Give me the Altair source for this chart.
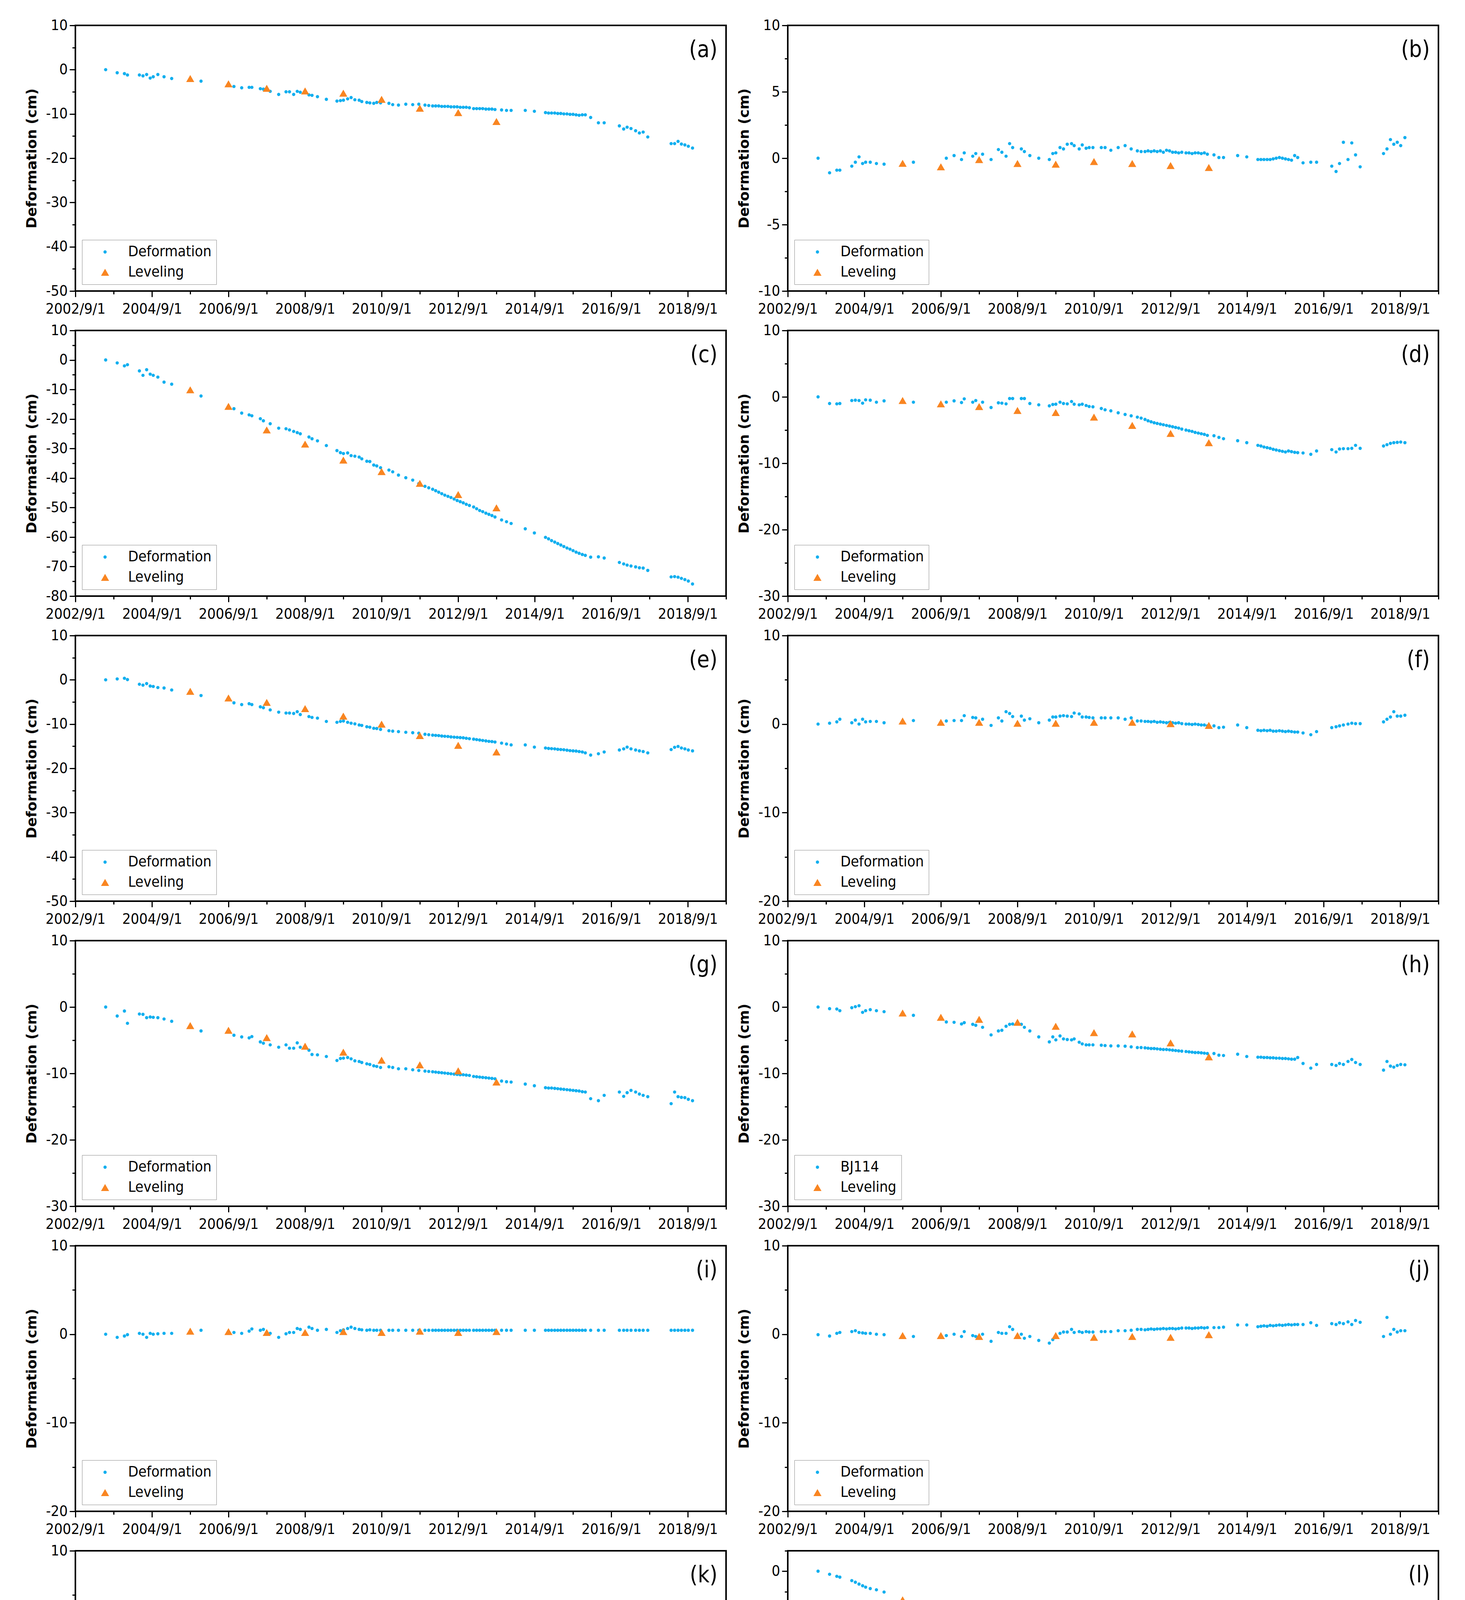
import altair as alt
import pandas as pd

# ---------------- data ----------------
DATES = [
    "2003-06-17","2003-10-05","2003-12-13","2004-01-11","2004-05-04","2004-06-07","2004-07-12","2004-08-15","2004-09-13","2004-10-27",
    "2004-12-25","2005-03-08","2005-12-13","2006-10-23","2007-01-05","2007-03-17","2007-04-12","2007-07-02","2007-07-31","2007-10-04",
    "2007-12-24","2008-03-03","2008-04-05","2008-05-15","2008-06-18","2008-07-17","2008-10-08","2008-11-06","2008-12-28","2009-03-23",
    "2009-07-02","2009-08-04","2009-09-02","2009-10-12","2009-11-14","2009-12-20","2010-01-30","2010-02-24","2010-04-13","2010-05-12",
    "2010-06-18","2010-07-17","2010-08-22","2010-11-10","2010-12-16","2011-02-09","2011-04-20","2011-06-25","2011-08-22","2011-10-20",
    "2011-11-25","2012-01-01","2012-01-30","2012-02-28","2012-03-28","2012-04-26","2012-05-26","2012-06-24","2012-07-24","2012-08-22",
    "2012-09-20","2012-10-19","2012-11-17","2012-12-17","2013-01-26","2013-02-24","2013-03-25","2013-04-23","2013-05-23","2013-06-21",
    "2013-07-20","2013-08-18","2013-10-20","2013-12-06","2014-01-19","2014-06-03","2014-08-29","2014-12-13","2015-01-11","2015-02-09",
    "2015-03-11","2015-04-09","2015-05-08","2015-06-06","2015-07-06","2015-08-04","2015-09-02","2015-10-01","2015-10-30","2015-11-29",
    "2015-12-28","2016-02-17","2016-05-01","2016-06-25","2016-11-17","2016-12-28","2017-01-30","2017-03-08","2017-04-21","2017-05-27",
    "2017-07-02","2017-08-15","2018-03-26","2018-04-28","2018-05-31","2018-07-02","2018-08-04","2018-09-06","2018-10-16",
]
LEV_DATES = ["2005-09-01","2006-09-01","2007-09-01","2008-09-01","2009-09-01",
             "2010-09-01","2011-09-01","2012-09-01","2013-09-01"]

A_DEF = [0, -0.7, -0.9, -1.2, -1.2, -1.4, -1.1, -1.9, -1.6, -1.1,
         -1.6, -2.0, -2.6, -3.8, -4.1, -4.0, -4.0, -4.3, -4.4, -4.9,
         -5.6, -5.0, -5.0, -5.6, -4.9, -5.1, -5.7, -5.8, -6.1, -6.7,
         -7.1, -7.0, -6.9, -6.6, -6.3, -6.8, -6.9, -7.2, -7.4, -7.5,
         -7.6, -7.4, -7.5, -7.6, -7.9, -8.0, -7.8, -7.9, -7.8, -8.0,
         -8.1, -8.2, -8.2, -8.2, -8.3, -8.3, -8.3, -8.4, -8.4, -8.4,
         -8.5, -8.5, -8.5, -8.6, -8.8, -8.8, -8.8, -8.8, -8.9, -8.9,
         -8.9, -9.0, -9.1, -9.2, -9.2, -9.2, -9.4, -9.7, -9.8, -9.8,
         -9.8, -9.9, -9.9, -10.0, -10.0, -10.1, -10.1, -10.2, -10.3, -10.2,
         -10.2, -10.8, -12.0, -12.0, -12.7, -13.4, -13.0, -13.3, -13.8, -14.3,
         -14.1, -15.2, -16.7, -16.7, -16.2, -16.8, -17.0, -17.3, -17.7]
A_LEV = [-2.0, -3.2, -4.2, -4.8, -5.3, -6.7, -8.7, -9.7, -11.7]

B_DEF = [0.0, -1.1, -0.9, -0.9, -0.6, -0.3, 0.1, -0.4, -0.3, -0.3,
         -0.4, -0.45, -0.3, 0.0, 0.2, -0.1, 0.4, 0.15, 0.35, 0.3,
         -0.1, 0.65, 0.45, 0.15, 1.1, 0.8, 0.7, 0.5, 0.2, 0.0,
         -0.1, 0.35, 0.4, 0.8, 0.7, 1.05, 1.1, 0.95, 0.7, 1.0,
         0.75, 0.8, 0.8, 0.8, 0.8, 0.6, 0.8, 0.95, 0.7, 0.55,
         0.5, 0.5, 0.55, 0.5, 0.55, 0.5, 0.55, 0.45, 0.6, 0.55,
         0.45, 0.45, 0.4, 0.45, 0.4, 0.4, 0.35, 0.4, 0.4, 0.35,
         0.4, 0.3, 0.25, 0.05, 0.05, 0.2, 0.1, -0.1, -0.1, -0.1,
         -0.1, -0.1, -0.05, 0.0, 0.05, 0.0, -0.05, -0.1, -0.15, 0.2,
         0.05, -0.35, -0.3, -0.3, -0.6, -1.0, -0.4, 1.2, -0.1, 1.15,
         0.25, -0.65, 0.35, 0.7, 1.4, 1.05, 1.2, 0.95, 1.55]
B_LEV = [-0.38, -0.65, -0.1, -0.4, -0.45, -0.25, -0.4, -0.55, -0.7]

C_DEF = [0, -1.0, -2.0, -1.6, -3.7, -5.2, -3.3, -4.8, -5.2, -5.8,
         -7.5, -8.2, -12.2, -16.5, -18.0, -18.6, -18.9, -19.9, -20.6, -21.6,
         -23.1, -23.3, -23.7, -24.2, -24.6, -25.0, -26.1, -26.7, -27.4, -29.0,
         -30.7, -31.4, -31.7, -31.5, -32.4, -32.6, -32.9, -33.5, -34.3, -34.4,
         -35.6, -35.9, -36.5, -37.3, -37.9, -39.0, -39.9, -40.7, -41.9, -42.8,
         -43.3, -43.8, -44.3, -44.8, -45.3, -45.8, -46.2, -46.6, -47.1, -47.6,
         -48.0, -48.4, -48.9, -49.3, -49.8, -50.4, -51.0, -51.4, -51.9, -52.3,
         -52.7, -53.2, -54.2, -54.8, -55.4, -57.2, -58.6, -60.1, -60.6, -61.2,
         -61.7, -62.2, -62.7, -63.2, -63.7, -64.1, -64.6, -65.1, -65.5, -65.9,
         -66.2, -66.8, -66.7, -67.1, -68.6, -69.1, -69.5, -69.8, -70.1, -70.4,
         -70.5, -71.3, -73.5, -73.4, -73.6, -74.0, -74.4, -74.9, -75.9]
C_LEV = [-10.1, -15.7, -23.7, -28.5, -33.9, -37.8, -41.8, -45.6, -50.1]

D_DEF = [0, -1.0, -1.05, -1.0, -0.55, -0.5, -0.55, -0.95, -0.45, -0.5,
         -0.8, -0.6, -0.8, -0.8, -0.6, -0.85, -0.3, -0.8, -0.55, -0.8,
         -1.6, -0.9, -0.95, -1.05, -0.25, -0.25, -0.25, -0.25, -1.0, -1.2,
         -1.35, -1.15, -1.1, -0.8, -1.0, -1.05, -0.7, -1.1, -1.2, -1.1,
         -1.3, -1.45, -1.5, -1.75, -1.95, -2.1, -2.4, -2.65, -2.85, -3.05,
         -3.2, -3.4, -3.6, -3.75, -3.9, -4.0, -4.1, -4.2, -4.3, -4.4,
         -4.5, -4.6, -4.7, -4.85, -5.0, -5.1, -5.2, -5.35, -5.45, -5.55,
         -5.65, -5.8, -5.85, -6.1, -6.3, -6.6, -6.9, -7.3, -7.4, -7.55,
         -7.65, -7.75, -7.9, -8.0, -8.1, -8.2, -8.3, -8.15, -8.25, -8.35,
         -8.4, -8.45, -8.65, -8.15, -7.95, -8.3, -7.85, -7.8, -7.8, -7.75,
         -7.3, -7.75, -7.4, -7.2, -7.0, -6.9, -6.85, -6.8, -6.9]
D_LEV = [-0.55, -1.05, -1.45, -2.05, -2.35, -3.05, -4.3, -5.5, -6.9]

E_DEF = [0, 0.2, 0.35, 0.05, -1.0, -1.2, -0.85, -1.4, -1.5, -1.75,
         -1.85, -2.3, -3.55, -5.2, -5.6, -5.4, -5.6, -6.1, -6.3, -6.8,
         -7.3, -7.5, -7.5, -7.6, -7.2, -7.85, -8.3, -8.5, -8.65, -9.4,
         -9.6, -9.4, -9.3, -9.6, -9.8, -9.95, -10.2, -10.3, -10.6, -10.7,
         -10.95, -11.0, -11.2, -11.5, -11.6, -11.7, -11.85, -11.95, -12.05, -12.3,
         -12.4, -12.5, -12.55, -12.6, -12.7, -12.75, -12.8, -12.9, -12.95, -13.0,
         -13.05, -13.1, -13.2, -13.3, -13.4, -13.5, -13.6, -13.7, -13.8, -13.9,
         -13.95, -14.05, -14.3, -14.5, -14.7, -14.7, -15.2, -15.4, -15.5, -15.55,
         -15.6, -15.7, -15.75, -15.8, -15.9, -16.0, -16.05, -16.1, -16.2, -16.3,
         -16.5, -17.0, -16.7, -16.3, -15.85, -15.6, -15.2, -15.6, -15.85, -16.05,
         -16.2, -16.5, -15.75, -15.25, -15.05, -15.4, -15.6, -15.85, -16.05]
E_LEV = [-2.6, -4.1, -5.1, -6.5, -8.2, -10.0, -12.6, -14.8, -16.3]

F_DEF = [0, 0.1, 0.25, 0.55, 0.15, 0.45, 0.0, 0.55, 0.25, 0.3,
         0.3, 0.15, 0.4, 0.35, 0.4, 0.4, 0.95, 0.75, 0.7, 0.55,
         -0.15, 0.7, 0.35, 1.4, 1.2, 0.85, 0.9, 0.45, 0.6, 0.15,
         0.45, 0.8, 0.8, 0.9, 0.95, 0.9, 0.85, 1.25, 1.15, 0.8,
         0.8, 0.75, 0.7, 0.7, 0.7, 0.7, 0.7, 0.55, 0.7, 0.35,
         0.35, 0.3, 0.3, 0.25, 0.3, 0.2, 0.25, 0.2, 0.15, 0.2,
         0.15, 0.1, 0.15, 0.05, 0.0, 0.0, -0.05, 0.0, -0.05, -0.1,
         -0.1, -0.2, -0.2, -0.4, -0.35, -0.1, -0.4, -0.7, -0.75, -0.7,
         -0.75, -0.7, -0.8, -0.8, -0.75, -0.8, -0.85, -0.8, -0.85, -0.9,
         -0.9, -1.0, -1.2, -0.85, -0.4, -0.3, -0.2, -0.1, 0.0, 0.1,
         0.05, 0.05, 0.25, 0.55, 0.8, 1.4, 0.9, 0.9, 1.0]
F_LEV = [0.35, 0.2, 0.2, 0.1, 0.1, 0.2, 0.2, 0.05, -0.15]

G_DEF = [0, -1.35, -0.6, -2.45, -1.05, -1.1, -1.6, -1.5, -1.55, -1.6,
         -1.8, -2.15, -3.6, -4.25, -4.5, -4.65, -4.45, -5.25, -5.45, -5.7,
         -6.05, -5.7, -6.2, -6.2, -5.4, -6.05, -6.5, -7.15, -7.2, -7.45,
         -8.05, -7.75, -7.7, -7.6, -7.8, -8.1, -8.2, -8.35, -8.55, -8.65,
         -8.85, -8.95, -9.1, -9.0, -9.1, -9.3, -9.3, -9.45, -9.55, -9.65,
         -9.7, -9.75, -9.8, -9.85, -9.9, -9.95, -10.0, -10.05, -10.1, -10.15,
         -10.2, -10.2, -10.25, -10.3, -10.45, -10.5, -10.55, -10.6, -10.65, -10.7,
         -10.75, -10.8, -11.15, -11.25, -11.3, -11.6, -11.85, -12.15, -12.2, -12.2,
         -12.25, -12.3, -12.35, -12.4, -12.45, -12.5, -12.55, -12.6, -12.65, -12.75,
         -12.8, -13.8, -14.1, -13.3, -12.8, -13.45, -12.9, -12.55, -12.8, -13.1,
         -13.3, -13.5, -14.55, -12.8, -13.5, -13.6, -13.65, -13.9, -14.1]
G_LEV = [-2.8, -3.5, -4.6, -5.9, -6.8, -8.0, -8.7, -9.6, -11.3]

H_DEF = [0, -0.25, -0.3, -0.55, -0.1, 0.05, 0.2, -0.8, -0.55, -0.4,
         -0.55, -0.7, -1.25, -2.25, -2.3, -2.55, -2.35, -2.6, -2.75, -3.05,
         -4.2, -3.6, -3.5, -2.9, -2.6, -2.55, -2.6, -3.05, -3.6, -4.5,
         -5.25, -4.5, -4.95, -4.35, -4.8, -4.9, -4.95, -4.8, -5.3, -5.55,
         -5.7, -5.7, -5.7, -5.75, -5.8, -5.85, -5.85, -5.9, -6.0, -6.1,
         -6.1, -6.15, -6.2, -6.25, -6.25, -6.3, -6.35, -6.4, -6.4, -6.45,
         -6.5, -6.55, -6.6, -6.65, -6.7, -6.75, -6.8, -6.85, -6.85, -6.9,
         -6.95, -7.0, -7.0, -7.25, -7.3, -7.1, -7.45, -7.55, -7.55, -7.6,
         -7.6, -7.65, -7.65, -7.7, -7.7, -7.75, -7.75, -7.8, -7.85, -7.85,
         -7.6, -8.5, -9.2, -8.65, -8.65, -8.8, -8.5, -8.65, -8.2, -7.9,
         -8.35, -8.65, -9.5, -8.2, -8.9, -9.05, -8.8, -8.65, -8.7]
H_LEV = [-0.9, -1.55, -1.85, -2.3, -2.9, -3.85, -4.05, -5.4, -7.5]

I_DEF = [0, -0.35, -0.2, -0.05, 0.1, 0.0, -0.35, 0.1, 0.0, 0.05,
         0.1, 0.1, 0.45, 0.2, 0.1, 0.35, 0.6, 0.45, 0.55, 0.1,
         -0.35, 0.05, 0.2, 0.2, 0.65, 0.55, 0.8, 0.65, 0.45, 0.55,
         0.2, 0.4, 0.5, 0.65, 0.8, 0.65, 0.55, 0.5, 0.45, 0.5,
         0.45, 0.45, 0.45, 0.45, 0.45, 0.45, 0.45, 0.45, 0.45, 0.45,
         0.45, 0.45, 0.45, 0.45, 0.45, 0.45, 0.45, 0.45, 0.45, 0.45,
         0.45, 0.45, 0.45, 0.45, 0.45, 0.45, 0.45, 0.45, 0.45, 0.45,
         0.45, 0.45, 0.45, 0.45, 0.45, 0.45, 0.45, 0.45, 0.45, 0.45,
         0.45, 0.45, 0.45, 0.45, 0.45, 0.45, 0.45, 0.45, 0.45, 0.45,
         0.45, 0.45, 0.45, 0.45, 0.45, 0.45, 0.45, 0.45, 0.45, 0.45,
         0.45, 0.45, 0.45, 0.45, 0.45, 0.45, 0.45, 0.45, 0.45]
I_LEV = [0.35, 0.3, 0.2, 0.2, 0.3, 0.2, 0.35, 0.2, 0.3]

J_DEF = [-0.05, -0.2, 0.1, 0.2, 0.3, 0.4, 0.2, 0.15, 0.1, 0.1,
         0.0, -0.05, -0.25, -0.15, 0.0, -0.25, 0.3, -0.15, -0.25, 0.0,
         -0.8, 0.2, 0.1, 0.1, 0.85, 0.55, 0.0, -0.45, -0.25, -0.7,
         -1.0, -0.6, -0.25, 0.1, 0.25, 0.25, 0.55, 0.2, 0.3, 0.2,
         0.3, 0.25, 0.25, 0.3, 0.3, 0.3, 0.4, 0.4, 0.45, 0.55,
         0.55, 0.5, 0.55, 0.6, 0.55, 0.6, 0.6, 0.65, 0.6, 0.65,
         0.65, 0.6, 0.65, 0.7, 0.7, 0.7, 0.65, 0.7, 0.7, 0.75,
         0.7, 0.75, 0.75, 0.75, 0.8, 1.05, 1.05, 0.85, 0.9, 0.95,
         0.9, 1.0, 0.95, 1.0, 1.05, 1.0, 1.05, 1.1, 1.05, 1.1,
         1.1, 1.1, 1.3, 1.0, 1.2, 1.1, 1.3, 1.2, 1.4, 1.1,
         1.55, 1.35, -0.25, 1.9, 0.0, 0.55, 0.25, 0.4, 0.4]
J_LEV = [-0.15, -0.15, -0.25, -0.15, -0.15, -0.35, -0.25, -0.35, -0.05]

K_DEF = [0, 0.25, 0.65, 0.9, 0.65, 1.0, 0.45, 0.1, -0.2, 0.35,
         0.35, 0.2, 0.2, 0.1, 0.0, 0.0, 0.4, 0.35, 0.35, 0.1,
         -0.45, 0.1, 0.0, 0.2, 0.55, 0.45, 0.35, 0.1, -0.1, -0.35,
         -1.0, -0.55, -0.2, -0.1, -0.05, 0.0, -0.2, -0.2, -0.2, -0.35,
         -0.2, -0.1, -0.1, -0.2, -0.25, -0.3, -0.2, -0.1, -0.2, -0.1,
         -0.1, -0.1, -0.05, -0.05, -0.05, -0.05, 0.0, 0.0, -0.05, 0.0,
         0.0, 0.0, 0.0, 0.05, 0.05, 0.05, 0.0, 0.05, 0.05, 0.05,
         0.05, 0.1, 0.05, 0.1, 0.05, 0.2, 0.2, 0.2, 0.2, 0.2,
         0.25, 0.2, 0.25, 0.25, 0.2, 0.25, 0.25, 0.3, 0.25, 0.55,
         0.3, -0.2, 0.0, 0.1, 0.35, 0.35, 0.45, 0.25, 0.35, 0.2,
         0.2, -0.1, 0.0, 0.65, 0.55, 0.45, 0.35, 0.3, 0.25]
K_LEV = [0.2, 0.0, -0.1, -0.15, -0.2, -0.3, -0.4, -0.55, -0.6]

L_DEF = [0, -1.5, -2.5, -2.9, -4.6, -5.4, -6.3, -7.1, -7.8, -8.5,
         -9.1, -10.2, -16.9, -23.4, -24.7, -25.9, -26.4, -27.6, -28.2, -29.1,
         -31.2, -31.7, -32.5, -33.2, -33.7, -34.2, -35.8, -36.6, -37.8, -38.9,
         -41.5, -42.4, -43.2, -43.9, -44.6, -45.3, -45.8, -46.3, -46.9, -47.6,
         -48.3, -49.0, -49.6, -51.3, -52.3, -53.7, -55.1, -56.3, -57.8, -58.8,
         -59.6, -60.4, -61.1, -61.8, -62.6, -63.3, -64.0, -64.8, -65.5, -66.2,
         -66.9, -67.6, -68.3, -69.0, -69.9, -70.6, -71.3, -72.0, -72.7, -73.4,
         -74.1, -74.8, -76.6, -77.8, -79.0, -83.4, -85.9, -88.3, -89.1, -89.9,
         -90.7, -91.5, -92.3, -93.1, -93.9, -94.7, -95.5, -96.3, -97.1, -97.9,
         -98.6, -99.6, -100.8, -101.5, -102.6, -103.4, -104.1, -104.8, -105.6, -106.3,
         -107.0, -107.8, -111.7, -110.3, -110.8, -111.4, -112.1, -112.8, -113.6]
L_LEV = [-14.0, -19.5, -25.8, -34.0, -42.8, -52.5, -62.8, -72.4, -81.5]

M_DEF = [-0.1, 0.5, 0.55, 0.6, -0.05, -0.25, -0.6, -0.85, -0.95, -1.2,
         -1.45, -1.55, -2.5, -3.1, -3.0, -3.35, -3.45, -3.7, -3.7, -4.3,
         -5.0, -4.65, -4.9, -4.55, -4.65, -4.9, -5.15, -5.4, -5.5, -6.35,
         -7.25, -6.2, -6.3, -6.45, -6.6, -6.7, -6.8, -6.9, -7.05, -7.2,
         -7.35, -7.35, -7.4, -7.4, -7.4, -7.4, -7.4, -7.45, -7.5, -7.45,
         -7.5, -7.55, -7.55, -7.6, -7.6, -7.6, -7.65, -7.65, -7.65, -7.7,
         -7.7, -7.7, -7.7, -7.75, -7.75, -7.8, -7.8, -7.8, -7.85, -7.85,
         -7.9, -7.9, -7.95, -7.95, -8.0, -8.0, -8.05, -8.2, -8.2, -8.2,
         -8.25, -8.2, -8.25, -8.25, -8.3, -8.25, -8.3, -8.3, -8.3, -8.3,
         -7.9, -9.2, -9.55, -8.85, -9.2, -9.7, -8.95, -9.1, -9.0, -8.5,
         -8.3, -8.25, -9.1, -8.0, -8.4, -8.6, -8.8, -8.95, -9.2]
M_LEV = [-1.9, -2.75, -3.6, -4.95, -6.0, -7.1, -8.25, -9.45, -10.5]

N_DEF = [0, -0.35, -0.65, -0.65, -0.55, -0.45, -0.1, -0.65, -0.55, 0.05,
         -0.6, -0.9, -0.55, -1.2, -1.1, -1.25, -1.0, -1.2, -1.1, -1.45,
         -2.35, -1.65, -2.1, -2.1, -0.7, -1.1, -1.25, -1.35, -2.0, -2.1,
         -2.9, -2.25, -2.1, -2.0, -1.8, -1.7, -1.9, -2.0, -2.45, -2.35,
         -2.4, -2.6, -2.35, -2.15, -2.2, -2.25, -2.2, -2.25, -2.1, -2.0,
         -2.05, -2.0, -1.95, -2.0, -1.9, -1.95, -1.9, -1.9, -1.85, -1.9,
         -1.85, -1.85, -1.8, -1.8, -1.75, -1.75, -1.7, -1.75, -1.7, -1.7,
         -1.65, -1.65, -1.6, -1.6, -1.6, -1.55, -1.55, -1.45, -1.45, -1.45,
         -1.4, -1.45, -1.4, -1.4, -1.35, -1.4, -1.35, -1.4, -1.35, -1.35,
         -1.55, -1.6, -1.7, -1.9, -1.45, -1.55, -1.35, -1.6, -1.45, -1.5,
         -1.6, -2.1, -1.9, -1.6, -1.0, -1.2, -1.25, -1.3, -1.35]
N_LEV = [-0.55, -1.1, -1.35, -1.25, -1.25, -1.45, -1.35, -2.15, -2.3]

# (panel label, deformation series, leveling series, legend name, y-min, y-max, label step, tick step)
PANELS = [
    ("(a)", A_DEF, A_LEV, "Deformation", -50, 10, 10, 5),
    ("(b)", B_DEF, B_LEV, "Deformation", -10, 10, 5, 2.5),
    ("(c)", C_DEF, C_LEV, "Deformation", -80, 10, 10, 5),
    ("(d)", D_DEF, D_LEV, "Deformation", -30, 10, 10, 5),
    ("(e)", E_DEF, E_LEV, "Deformation", -50, 10, 10, 5),
    ("(f)", F_DEF, F_LEV, "Deformation", -20, 10, 10, 5),
    ("(g)", G_DEF, G_LEV, "Deformation", -30, 10, 10, 5),
    ("(h)", H_DEF, H_LEV, "BJ114", -30, 10, 10, 5),
    ("(i)", I_DEF, I_LEV, "Deformation", -20, 10, 10, 5),
    ("(j)", J_DEF, J_LEV, "Deformation", -20, 10, 10, 5),
    ("(k)", K_DEF, K_LEV, "Deformation", -20, 10, 10, 5),
    ("(l)", L_DEF, L_LEV, "Deformation", -120, 10, 20, 10),
    ("(m)", M_DEF, M_LEV, "BJ113", -30, 10, 10, 5),
    ("(n)", N_DEF, N_LEV, "Deformation", -20, 10, 10, 5),
]

# ---------------- styling ----------------
BLUE = "#12AFEF"
ORANGE = "#F98521"
W, H = 1666, 680
NARROW = "Liberation Sans Narrow, DejaVu Sans Condensed, Liberation Sans, sans-serif"
XTICKS = [alt.DateTime(year=y, month=9, date=1) for y in range(2002, 2020)]
XDOMAIN = [alt.DateTime(year=2002, month=9, date=1), alt.DateTime(year=2019, month=9, date=1)]


def panel(label, dvals, lvals, name, ymin, ymax, major, minor, bottom):
    df = pd.concat([
        pd.DataFrame({"date": DATES, "value": dvals, "series": name}),
        pd.DataFrame({"date": LEV_DATES, "value": lvals, "series": "Leveling"}),
    ], ignore_index=True)
    dom = [name, "Leveling"]
    leg = alt.Legend(orient="bottom-left", offset=17, fillColor="white",
                     strokeColor="#8c8c8c", padding=12, rowPadding=14,
                     symbolOffset=28, labelOffset=40, labelFont=NARROW,
                     labelFontSize=38, labelLimit=500, symbolStrokeWidth=0,
                     labelColor="black")
    yvals = []
    v = ymin
    while v <= ymax + 1e-9:
        yvals.append(round(v, 3))
        v += minor
    minor_test = "abs(datum.value %% %s) > 0.001" % major
    yaxis = alt.Axis(values=yvals, labelExpr="%s ? '' : '' + datum.value" % minor_test,
                     tickSize={"condition": {"test": minor_test, "value": 8}, "value": 15},
                     labelPadding=5, labelOverlap=False, labelFont=NARROW, labelFontSize=38,
                     titleFont="DejaVu Sans", titleFontWeight="bold", titleFontSize=36,
                     titleX=-112, titleY=H / 2, titleAngle=270, titleAlign="center",
                     titleBaseline="middle", titleColor="black")
    xtest = "year(datum.value) % 2 == 1"
    xaxis_kw = dict(values=XTICKS,
                    labelExpr="year(datum.value) % 2 == 1 ? '' : timeFormat(datum.value, '%Y/%-m/%-d')",
                    tickSize={"condition": {"test": xtest, "value": 8}, "value": 15},
                    labelPadding=12, labelFlush=False, labelOverlap=False,
                    labelFont=NARROW, labelFontSize=38)
    if bottom:
        xaxis = alt.Axis(titleFont=NARROW, titleFontWeight="bold", titleFontSize=46,
                         titleY=124, titleX=W / 2, titleBaseline="middle",
                         titleColor="black", **xaxis_kw)
        xenc = alt.X("date:T", title="Time", axis=xaxis,
                     scale=alt.Scale(domain=XDOMAIN))
    else:
        xenc = alt.X("date:T", title=None, axis=alt.Axis(**xaxis_kw),
                     scale=alt.Scale(domain=XDOMAIN))

    pts = alt.Chart(df).mark_point(filled=True, opacity=1, strokeWidth=0).encode(
        x=xenc,
        y=alt.Y("value:Q", title="Deformation (cm)", axis=yaxis,
                scale=alt.Scale(domain=[ymin, ymax], nice=False, zero=False)),
        color=alt.Color("series:N", title=None, legend=leg,
                        scale=alt.Scale(domain=dom, range=[BLUE, ORANGE])),
        shape=alt.Shape("series:N", title=None, legend=leg,
                        scale=alt.Scale(domain=dom, range=["circle", "triangle-up"])),
        size=alt.Size("series:N", title=None, legend=leg,
                      scale=alt.Scale(domain=dom, range=[70, 430])),
    )
    txt = alt.Chart(pd.DataFrame({"t": [label]})).mark_text(
        font=NARROW, fontSize=58, align="right", baseline="middle", color="black"
    ).encode(text="t:N", x=alt.value(W - 22), y=alt.value(64))
    return alt.layer(pts, txt).properties(width=W, height=H)


charts = []
for i, p in enumerate(PANELS):
    charts.append(panel(*p, i >= 12))

chart = alt.concat(*charts, columns=2, spacing={"row": 101, "column": 158},
                   bounds="flush").resolve_scale(
    color="independent", shape="independent", size="independent"
).resolve_legend(
    color="independent", shape="independent", size="independent"
).properties(
    padding={"left": 53, "top": 36, "right": 12, "bottom": 12}
).configure_view(stroke="black", strokeWidth=4).configure_axis(
    labelColor="black", tickColor="black", domainColor="black",
    tickWidth=3, domainWidth=3, grid=False
)

chart.save("out.html", embed_options={"renderer": "svg", "actions": False})
